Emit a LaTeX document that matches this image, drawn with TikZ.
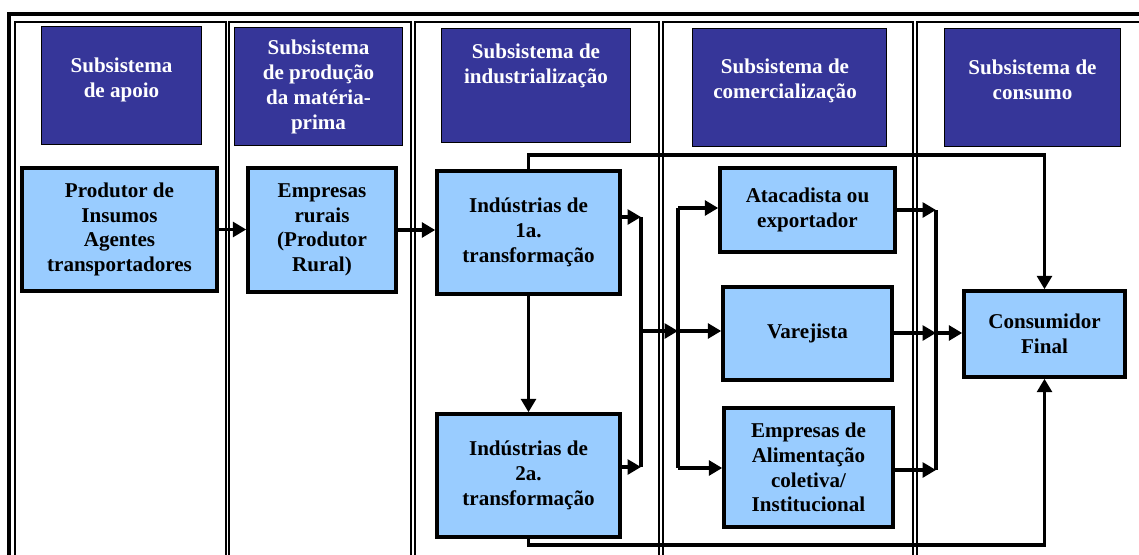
\documentclass[tikz,border=0pt]{standalone}
\usepackage{fontspec}
\setmainfont{Liberation Serif}
\usetikzlibrary{arrows.meta}
\definecolor{cabeca}{RGB}{54,54,153}
\definecolor{bloco}{RGB}{153,204,255}
\begin{document}
\begin{tikzpicture}[x=0.75pt,y=-0.75pt]
  \tikzstyle{cab} = [draw, fill=cabeca, line width=1.1pt, anchor=center, inner sep=0pt]
  \tikzstyle{cabtxt} = [text=white, font=\bfseries\fontsize{15.8}{18.75}\selectfont, align=center, inner sep=0pt]
  \tikzstyle{b} = [draw, fill=bloco, line width=2.6pt, anchor=center, inner sep=0pt, align=center, font=\bfseries\fontsize{15.8}{18.5}\selectfont]
  \tikzstyle{seta} = [line width=2.6pt, -{Triangle[length=10pt,width=11pt]}]
  \tikzstyle{linha} = [line width=2.6pt]
  \useasboundingbox (0,0) rectangle (1139,554);
  \clip (0,0) rectangle (1139,554);

  % Moldura
  \draw[line width=3pt] (8.5,14) rectangle (1200,600);
  \draw[line width=1pt] (15,22) rectangle (226,600);
  \draw[line width=1pt] (229,22) rectangle (411,600);
  \draw[line width=1pt] (415,22) rectangle (659,600);
  \draw[line width=1pt] (663,22) rectangle (913,600);
  \draw[line width=1pt] (917,22) rectangle (1200,600);

  % Subsistemas
  \node[cab, minimum width=120pt, minimum height=88.5pt] (h1) at (121.5,85.5) {};
  \node[cab, minimum width=126pt, minimum height=88.5pt] (h2) at (318.5,86.5) {};
  \node[cab, minimum width=141.75pt, minimum height=85.5pt] (h3) at (536,85.5) {};
  \node[cab, minimum width=145.5pt, minimum height=88.5pt] (h4) at (789.5,87.5) {};
  \node[cab, minimum width=132pt, minimum height=88.5pt] (h5) at (1032.5,87.5) {};
  \node[cabtxt] (h1t) at (121.5,80) {Subsistema\\de apoio};
  \node[cabtxt] (h2t) at (318.5,87) {Subsistema\\de produção\\da matéria-\\prima};
  \node[cabtxt] (h3t) at (536,66) {Subsistema de\\industrialização};
  \node[cabtxt] (h4t) at (785,81) {Subsistema de\\comercialização};
  \node[cabtxt] (h5t) at (1032.5,80) {Subsistema de\\consumo};

  % Agentes
  \node[b, minimum width=146.25pt, minimum height=92.25pt] (prod) at (119.5,229.5) {Produtor de\\Insumos\\Agentes\\transportadores};
  \node[b, minimum width=111pt, minimum height=93pt] (emp) at (322,230) {Empresas\\rurais\\(Produtor\\Rural)};
  \node[b, minimum width=137.25pt, minimum height=92.25pt] (ind1) at (528.5,232.5) {Indústrias de\\1a.\\transformação};
  \node[b, minimum width=137.25pt, minimum height=92.25pt] (ind2) at (528.5,475.5) {Indústrias de\\2a.\\transformação};
  \node[b, minimum width=131.25pt, minimum height=63pt] (atac) at (807.5,210) {Atacadista ou\\exportador};
  \node[b, minimum width=126.75pt, minimum height=69.75pt] (varej) at (807.5,333.5) {Varejista};
  \node[b, minimum width=126.75pt, minimum height=89.25pt] (alim) at (808.5,467.5) {Empresas de\\Alimentação\\coletiva/\\Institucional};
  \node[b, minimum width=120.75pt, minimum height=64.5pt] (cons) at (1044.5,334) {Consumidor\\Final};

  % Pontos de ligação
  \coordinate (c1a) at (641,217);
  \coordinate (c1b) at (641,467);
  \coordinate (c1m) at (641,331);
  \coordinate (c2a) at (678,208);
  \coordinate (c2b) at (678,468);
  \coordinate (c2m) at (678,331);
  \coordinate (c3a) at (936,210);
  \coordinate (c3b) at (936,470);
  \coordinate (c3m) at (936,333);
  \coordinate (topo) at (1044.5,155);
  \coordinate (base) at (1044.5,545);

  % Ligações
  \draw[seta] (prod.east) -- (prod.east -| emp.west);
  \draw[seta] (emp.east) -- (emp.east -| ind1.west);
  \draw[seta] (ind1.south) -- (ind2.north);
  \draw[seta] (ind1.east |- c1a) -- (c1a);
  \draw[seta] (ind2.east |- c1b) -- (c1b);
  \draw[linha] (c1a) -- (c1b);
  \draw[seta] (c1m) -- (c2m);
  \draw[linha] (c2a) -- (c2b);
  \draw[seta] (c2a) -- (c2a -| atac.west);
  \draw[seta] (c2m) -- (c2m -| varej.west);
  \draw[seta] (c2b) -- (c2b -| alim.west);
  \draw[seta] (atac.east |- c3a) -- (c3a);
  \draw[seta] (varej.east |- c3m) -- (c3m);
  \draw[seta] (alim.east |- c3b) -- (c3b);
  \draw[linha] (c3a) -- (c3b);
  \draw[seta] (c3m) -- (c3m -| cons.west);
  \draw[seta] (ind1.north) |- (topo) -- (cons.north);
  \draw[seta] (ind2.south) |- (base) -- (cons.south);
\end{tikzpicture}
\end{document}
